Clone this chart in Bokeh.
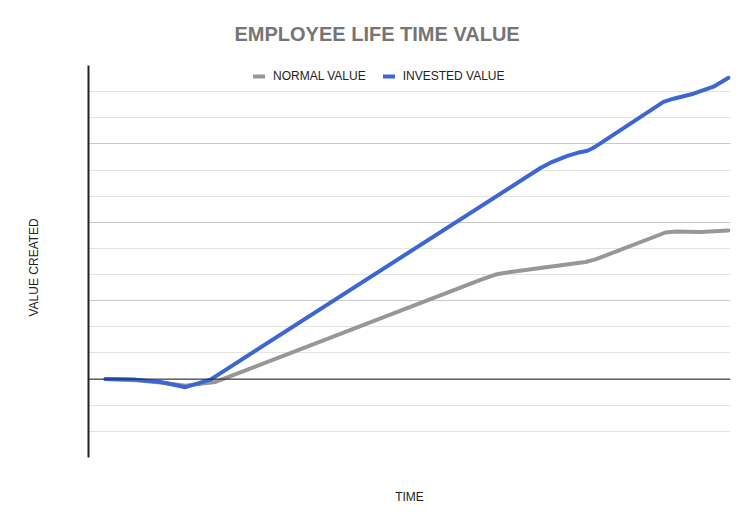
from bokeh.plotting import figure
from bokeh.models import Range1d, FixedTicker, Span, Legend, LegendItem, Title
from bokeh.embed import file_html
from bokeh.resources import INLINE

# ---- data ----
title_text = "EMPLOYEE LIFE TIME VALUE"
x_label = "TIME"
y_label = "VALUE CREATED"
series_names = ["NORMAL VALUE", "INVESTED VALUE"]

time_normal = [0, 3, 5.5, 8, 11, 37.5, 39, 40.5, 48, 49, 56, 57, 59.5, 62.3]
normal_value = [0, -0.04, -0.13, -0.25, -0.11, 3.80, 4.00, 4.10, 4.48, 4.58, 5.61, 5.65, 5.63, 5.69]

time_invested = [0, 3, 5.5, 8, 10.5, 43.5, 44.5, 46.2, 47.2, 48.2, 48.8, 55.8, 56.8, 58.8, 60.8, 62.3]
invested_value = [0, -0.02, -0.11, -0.31, -0.02, 8.08, 8.28, 8.54, 8.66, 8.74, 8.85, 10.61, 10.73, 10.92, 11.19, 11.53]

y_major = [-3, 0, 3, 6, 9, 12]
y_minor = [-2, -1, 1, 2, 4, 5, 7, 8, 10, 11]

FONT = "Liberation Sans"

p = figure(width=755, height=519, output_backend="svg", toolbar_location=None,
           x_range=Range1d(-1.7, 62.5), y_range=Range1d(-3, 12),
           min_border_left=88, min_border_right=25, min_border_top=65,
           min_border_bottom=62, title=None)
p.outline_line_color = None
p.background_fill_color = "white"

grid_ticker = FixedTicker(ticks=y_major, minor_ticks=y_minor)
p.ygrid.ticker = grid_ticker
p.xgrid.grid_line_color = None
p.ygrid.grid_line_color = "#c8c8c8"
p.ygrid.minor_grid_line_color = "#e3e3e3"

# axes carry no ticks or labels; the y axis only draws the left rule
p.yaxis.ticker = FixedTicker(ticks=[], minor_ticks=[])
p.yaxis.axis_line_color = "#222222"
p.yaxis.axis_line_width = 2
p.yaxis.major_tick_line_color = None
p.yaxis.minor_tick_line_color = None
p.yaxis.major_tick_in = 0
p.yaxis.major_tick_out = 0
p.yaxis.minor_tick_out = 0
p.yaxis.major_label_standoff = 0
p.xaxis.visible = False

# zero line
p.add_layout(Span(location=0, dimension="width", line_color="#222222", line_width=1))

r1 = p.line(time_normal, normal_value, line_color="#979797", line_width=4,
            line_join="round", line_cap="round")
r2 = p.line(time_invested, invested_value, line_color="#3c66d3", line_width=4,
            line_join="round", line_cap="round")

legend = Legend(items=[LegendItem(label=series_names[0], renderers=[r1]),
                       LegendItem(label=series_names[1], renderers=[r2])],
                orientation="horizontal", location=(165, 374), padding=0, margin=0,
                spacing=17, glyph_width=12, glyph_height=12, label_standoff=8,
                border_line_color=None, background_fill_alpha=0,
                label_text_font=FONT, label_text_font_size="12px",
                label_text_color="#222222")
p.add_layout(legend)

p.add_layout(Title(text=title_text, align="left", offset=146, standoff=40,
                   vertical_align="middle",
                   text_font=FONT, text_font_size="20px", text_font_style="bold",
                   text_color="#757575"), "above")

# spacer panels (blank, white) next to the frame, then the axis titles outside them
p.add_layout(Title(text=" ", standoff=3, text_font=FONT, text_font_size="12px",
                   text_color="white"), "below")
p.add_layout(Title(text=x_label, align="center", standoff=25, vertical_align="middle",
                   text_font=FONT, text_font_size="12px", text_font_style="normal",
                   text_color="#222222"), "below")

p.add_layout(Title(text=" ", standoff=8, text_font=FONT, text_font_size="12px",
                   text_color="white"), "left")
p.add_layout(Title(text=y_label, align="left", offset=141, standoff=46,
                   vertical_align="middle",
                   text_font=FONT, text_font_size="12px", text_font_style="normal",
                   text_color="#222222"), "left")

open("out.html", "w").write(file_html(p, INLINE))
